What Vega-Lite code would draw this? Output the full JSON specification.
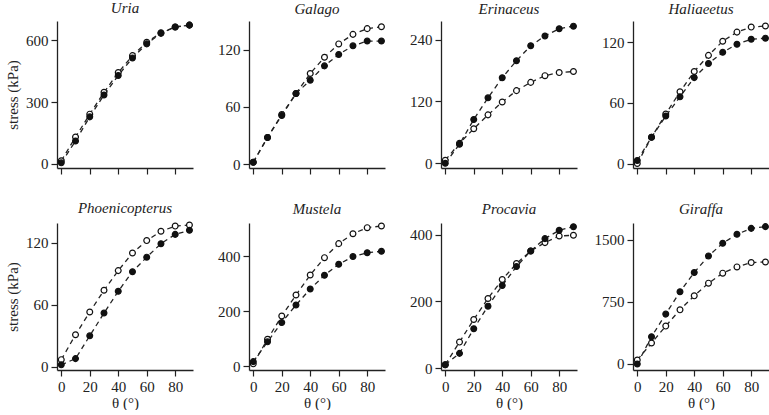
{
  "$schema": "https://vega.github.io/schema/vega-lite/v6.json",
  "padding": {"left": 5, "top": 0, "right": 0, "bottom": 0},
  "background": "white",
  "data": {"values": [
    {"s":"Uria","t":"open","a":0,"v":15},{"s":"Uria","t":"open","a":10,"v":130},{"s":"Uria","t":"open","a":20,"v":241},{"s":"Uria","t":"open","a":30,"v":347},{"s":"Uria","t":"open","a":40,"v":443},{"s":"Uria","t":"open","a":50,"v":525},{"s":"Uria","t":"open","a":60,"v":590},{"s":"Uria","t":"open","a":70,"v":636},{"s":"Uria","t":"open","a":80,"v":664},{"s":"Uria","t":"open","a":90,"v":673},
    {"s":"Uria","t":"filled","a":0,"v":5},{"s":"Uria","t":"filled","a":10,"v":111},{"s":"Uria","t":"filled","a":20,"v":228},{"s":"Uria","t":"filled","a":30,"v":334},{"s":"Uria","t":"filled","a":40,"v":429},{"s":"Uria","t":"filled","a":50,"v":514},{"s":"Uria","t":"filled","a":60,"v":582},{"s":"Uria","t":"filled","a":70,"v":633},{"s":"Uria","t":"filled","a":80,"v":664},{"s":"Uria","t":"filled","a":90,"v":673},
    {"s":"Galago","t":"open","a":0,"v":2},{"s":"Galago","t":"open","a":10,"v":28},{"s":"Galago","t":"open","a":20,"v":52},{"s":"Galago","t":"open","a":30,"v":74},{"s":"Galago","t":"open","a":40,"v":95},{"s":"Galago","t":"open","a":50,"v":112},{"s":"Galago","t":"open","a":60,"v":126},{"s":"Galago","t":"open","a":70,"v":136},{"s":"Galago","t":"open","a":80,"v":142},{"s":"Galago","t":"open","a":90,"v":144},
    {"s":"Galago","t":"filled","a":0,"v":2},{"s":"Galago","t":"filled","a":10,"v":28},{"s":"Galago","t":"filled","a":20,"v":51},{"s":"Galago","t":"filled","a":30,"v":74},{"s":"Galago","t":"filled","a":40,"v":88},{"s":"Galago","t":"filled","a":50,"v":103},{"s":"Galago","t":"filled","a":60,"v":115},{"s":"Galago","t":"filled","a":70,"v":124},{"s":"Galago","t":"filled","a":80,"v":129},{"s":"Galago","t":"filled","a":90,"v":129},
    {"s":"Erinaceus","t":"open","a":0,"v":6},{"s":"Erinaceus","t":"open","a":10,"v":39},{"s":"Erinaceus","t":"open","a":20,"v":67},{"s":"Erinaceus","t":"open","a":30,"v":94},{"s":"Erinaceus","t":"open","a":40,"v":119},{"s":"Erinaceus","t":"open","a":50,"v":141},{"s":"Erinaceus","t":"open","a":60,"v":157},{"s":"Erinaceus","t":"open","a":70,"v":170},{"s":"Erinaceus","t":"open","a":80,"v":176},{"s":"Erinaceus","t":"open","a":90,"v":178},
    {"s":"Erinaceus","t":"filled","a":0,"v":0},{"s":"Erinaceus","t":"filled","a":10,"v":37},{"s":"Erinaceus","t":"filled","a":20,"v":85},{"s":"Erinaceus","t":"filled","a":30,"v":127},{"s":"Erinaceus","t":"filled","a":40,"v":166},{"s":"Erinaceus","t":"filled","a":50,"v":199},{"s":"Erinaceus","t":"filled","a":60,"v":228},{"s":"Erinaceus","t":"filled","a":70,"v":247},{"s":"Erinaceus","t":"filled","a":80,"v":261},{"s":"Erinaceus","t":"filled","a":90,"v":266},
    {"s":"Haliaeetus","t":"open","a":0,"v":0},{"s":"Haliaeetus","t":"open","a":10,"v":26},{"s":"Haliaeetus","t":"open","a":20,"v":49},{"s":"Haliaeetus","t":"open","a":30,"v":71},{"s":"Haliaeetus","t":"open","a":40,"v":91},{"s":"Haliaeetus","t":"open","a":50,"v":107},{"s":"Haliaeetus","t":"open","a":60,"v":121},{"s":"Haliaeetus","t":"open","a":70,"v":130},{"s":"Haliaeetus","t":"open","a":80,"v":135},{"s":"Haliaeetus","t":"open","a":90,"v":136},
    {"s":"Haliaeetus","t":"filled","a":0,"v":3},{"s":"Haliaeetus","t":"filled","a":10,"v":26},{"s":"Haliaeetus","t":"filled","a":20,"v":47},{"s":"Haliaeetus","t":"filled","a":30,"v":66},{"s":"Haliaeetus","t":"filled","a":40,"v":85},{"s":"Haliaeetus","t":"filled","a":50,"v":99},{"s":"Haliaeetus","t":"filled","a":60,"v":110},{"s":"Haliaeetus","t":"filled","a":70,"v":118},{"s":"Haliaeetus","t":"filled","a":80,"v":123},{"s":"Haliaeetus","t":"filled","a":90,"v":124},
    {"s":"Phoenicopterus","t":"open","a":0,"v":7},{"s":"Phoenicopterus","t":"open","a":10,"v":31},{"s":"Phoenicopterus","t":"open","a":20,"v":53},{"s":"Phoenicopterus","t":"open","a":30,"v":74},{"s":"Phoenicopterus","t":"open","a":40,"v":93},{"s":"Phoenicopterus","t":"open","a":50,"v":110},{"s":"Phoenicopterus","t":"open","a":60,"v":122},{"s":"Phoenicopterus","t":"open","a":70,"v":131},{"s":"Phoenicopterus","t":"open","a":80,"v":136},{"s":"Phoenicopterus","t":"open","a":90,"v":137},
    {"s":"Phoenicopterus","t":"filled","a":0,"v":2},{"s":"Phoenicopterus","t":"filled","a":10,"v":8},{"s":"Phoenicopterus","t":"filled","a":20,"v":30},{"s":"Phoenicopterus","t":"filled","a":30,"v":52},{"s":"Phoenicopterus","t":"filled","a":40,"v":73},{"s":"Phoenicopterus","t":"filled","a":50,"v":92},{"s":"Phoenicopterus","t":"filled","a":60,"v":106},{"s":"Phoenicopterus","t":"filled","a":70,"v":119},{"s":"Phoenicopterus","t":"filled","a":80,"v":128},{"s":"Phoenicopterus","t":"filled","a":90,"v":132},
    {"s":"Mustela","t":"open","a":0,"v":8},{"s":"Mustela","t":"open","a":10,"v":97},{"s":"Mustela","t":"open","a":20,"v":182},{"s":"Mustela","t":"open","a":30,"v":258},{"s":"Mustela","t":"open","a":40,"v":331},{"s":"Mustela","t":"open","a":50,"v":394},{"s":"Mustela","t":"open","a":60,"v":445},{"s":"Mustela","t":"open","a":70,"v":481},{"s":"Mustela","t":"open","a":80,"v":503},{"s":"Mustela","t":"open","a":90,"v":509},
    {"s":"Mustela","t":"filled","a":0,"v":16},{"s":"Mustela","t":"filled","a":10,"v":88},{"s":"Mustela","t":"filled","a":20,"v":158},{"s":"Mustela","t":"filled","a":30,"v":222},{"s":"Mustela","t":"filled","a":40,"v":280},{"s":"Mustela","t":"filled","a":50,"v":330},{"s":"Mustela","t":"filled","a":60,"v":370},{"s":"Mustela","t":"filled","a":70,"v":398},{"s":"Mustela","t":"filled","a":80,"v":412},{"s":"Mustela","t":"filled","a":90,"v":417},
    {"s":"Procavia","t":"open","a":0,"v":10},{"s":"Procavia","t":"open","a":10,"v":78},{"s":"Procavia","t":"open","a":20,"v":146},{"s":"Procavia","t":"open","a":30,"v":209},{"s":"Procavia","t":"open","a":40,"v":266},{"s":"Procavia","t":"open","a":50,"v":314},{"s":"Procavia","t":"open","a":60,"v":352},{"s":"Procavia","t":"open","a":70,"v":377},{"s":"Procavia","t":"open","a":80,"v":397},{"s":"Procavia","t":"open","a":90,"v":399},
    {"s":"Procavia","t":"filled","a":0,"v":10},{"s":"Procavia","t":"filled","a":10,"v":44},{"s":"Procavia","t":"filled","a":20,"v":118},{"s":"Procavia","t":"filled","a":30,"v":186},{"s":"Procavia","t":"filled","a":40,"v":248},{"s":"Procavia","t":"filled","a":50,"v":305},{"s":"Procavia","t":"filled","a":60,"v":352},{"s":"Procavia","t":"filled","a":70,"v":389},{"s":"Procavia","t":"filled","a":80,"v":414},{"s":"Procavia","t":"filled","a":90,"v":425},
    {"s":"Giraffa","t":"open","a":0,"v":48},{"s":"Giraffa","t":"open","a":10,"v":253},{"s":"Giraffa","t":"open","a":20,"v":458},{"s":"Giraffa","t":"open","a":30,"v":655},{"s":"Giraffa","t":"open","a":40,"v":824},{"s":"Giraffa","t":"open","a":50,"v":977},{"s":"Giraffa","t":"open","a":60,"v":1098},{"s":"Giraffa","t":"open","a":70,"v":1174},{"s":"Giraffa","t":"open","a":80,"v":1226},{"s":"Giraffa","t":"open","a":90,"v":1234},
    {"s":"Giraffa","t":"filled","a":0,"v":0},{"s":"Giraffa","t":"filled","a":10,"v":330},{"s":"Giraffa","t":"filled","a":20,"v":603},{"s":"Giraffa","t":"filled","a":30,"v":873},{"s":"Giraffa","t":"filled","a":40,"v":1106},{"s":"Giraffa","t":"filled","a":50,"v":1307},{"s":"Giraffa","t":"filled","a":60,"v":1460},{"s":"Giraffa","t":"filled","a":70,"v":1568},{"s":"Giraffa","t":"filled","a":80,"v":1640},{"s":"Giraffa","t":"filled","a":90,"v":1661}
  ]},
  "columns": 4,
  "bounds": "flush",
  "spacing": {"row": 55, "column": 56},
  "concat": [
    {"title": "Uria", "width": 136, "height": 147,
     "transform": [{"filter": "datum.s === 'Uria'"}],
     "encoding": {
       "x": {"field": "a", "type": "quantitative", "scale": {"domain": [-3, 92.5], "nice": false, "zero": false}, "axis": {"values": [0,20,40,60,80], "labels": false, "title": null}},
       "y": {"field": "v", "type": "quantitative", "scale": {"domain": [-20, 693], "nice": false, "zero": false}, "axis": {"values": [0,300,600], "title": "stress (kPa)"}}},
     "layer": [
       {"mark": {"type": "line", "strokeDash": [5,4], "strokeWidth": 1.3, "color": "#222"}, "encoding": {"detail": {"field": "t"}}},
       {"mark": {"type": "point", "shape": "circle", "filled": true, "size": 34, "stroke": "#111", "strokeWidth": 1.2, "opacity": 1}, "encoding": {"fill": {"field": "t", "type": "nominal", "scale": {"domain": ["filled","open"], "range": ["#111","#ffffff"]}, "legend": null}}}
     ]},
    {"title": "Galago", "width": 136, "height": 147,
     "transform": [{"filter": "datum.s === 'Galago'"}],
     "encoding": {
       "x": {"field": "a", "type": "quantitative", "scale": {"domain": [-3, 92.5], "nice": false, "zero": false}, "axis": {"values": [0,20,40,60,80], "labels": false, "title": null}},
       "y": {"field": "v", "type": "quantitative", "scale": {"domain": [-4, 150], "nice": false, "zero": false}, "axis": {"values": [0,60,120], "title": null}}},
     "layer": [
       {"mark": {"type": "line", "strokeDash": [5,4], "strokeWidth": 1.3, "color": "#222"}, "encoding": {"detail": {"field": "t"}}},
       {"mark": {"type": "point", "shape": "circle", "filled": true, "size": 34, "stroke": "#111", "strokeWidth": 1.2, "opacity": 1}, "encoding": {"fill": {"field": "t", "type": "nominal", "scale": {"domain": ["filled","open"], "range": ["#111","#ffffff"]}, "legend": null}}}
     ]},
    {"title": "Erinaceus", "width": 136, "height": 147,
     "transform": [{"filter": "datum.s === 'Erinaceus'"}],
     "encoding": {
       "x": {"field": "a", "type": "quantitative", "scale": {"domain": [-3, 92.5], "nice": false, "zero": false}, "axis": {"values": [0,20,40,60,80], "labels": false, "title": null}},
       "y": {"field": "v", "type": "quantitative", "scale": {"domain": [-9, 276], "nice": false, "zero": false}, "axis": {"values": [0,120,240], "title": null}}},
     "layer": [
       {"mark": {"type": "line", "strokeDash": [5,4], "strokeWidth": 1.3, "color": "#222"}, "encoding": {"detail": {"field": "t"}}},
       {"mark": {"type": "point", "shape": "circle", "filled": true, "size": 34, "stroke": "#111", "strokeWidth": 1.2, "opacity": 1}, "encoding": {"fill": {"field": "t", "type": "nominal", "scale": {"domain": ["filled","open"], "range": ["#111","#ffffff"]}, "legend": null}}}
     ]},
    {"title": "Haliaeetus", "width": 136, "height": 147,
     "transform": [{"filter": "datum.s === 'Haliaeetus'"}],
     "encoding": {
       "x": {"field": "a", "type": "quantitative", "scale": {"domain": [-3, 92.5], "nice": false, "zero": false}, "axis": {"values": [0,20,40,60,80], "labels": false, "title": null}},
       "y": {"field": "v", "type": "quantitative", "scale": {"domain": [-4.4, 141], "nice": false, "zero": false}, "axis": {"values": [0,60,120], "title": null}}},
     "layer": [
       {"mark": {"type": "line", "strokeDash": [5,4], "strokeWidth": 1.3, "color": "#222"}, "encoding": {"detail": {"field": "t"}}},
       {"mark": {"type": "point", "shape": "circle", "filled": true, "size": 34, "stroke": "#111", "strokeWidth": 1.2, "opacity": 1}, "encoding": {"fill": {"field": "t", "type": "nominal", "scale": {"domain": ["filled","open"], "range": ["#111","#ffffff"]}, "legend": null}}}
     ]},
    {"title": "Phoenicopterus", "width": 136, "height": 147,
     "transform": [{"filter": "datum.s === 'Phoenicopterus'"}],
     "encoding": {
       "x": {"field": "a", "type": "quantitative", "scale": {"domain": [-3, 92.5], "nice": false, "zero": false}, "axis": {"values": [0,20,40,60,80], "title": "θ (°)"}},
       "y": {"field": "v", "type": "quantitative", "scale": {"domain": [-3, 139], "nice": false, "zero": false}, "axis": {"values": [0,60,120], "title": "stress (kPa)"}}},
     "layer": [
       {"mark": {"type": "line", "strokeDash": [5,4], "strokeWidth": 1.3, "color": "#222"}, "encoding": {"detail": {"field": "t"}}},
       {"mark": {"type": "point", "shape": "circle", "filled": true, "size": 34, "stroke": "#111", "strokeWidth": 1.2, "opacity": 1}, "encoding": {"fill": {"field": "t", "type": "nominal", "scale": {"domain": ["filled","open"], "range": ["#111","#ffffff"]}, "legend": null}}}
     ]},
    {"title": "Mustela", "width": 136, "height": 147,
     "transform": [{"filter": "datum.s === 'Mustela'"}],
     "encoding": {
       "x": {"field": "a", "type": "quantitative", "scale": {"domain": [-3, 92.5], "nice": false, "zero": false}, "axis": {"values": [0,20,40,60,80], "title": "θ (°)"}},
       "y": {"field": "v", "type": "quantitative", "scale": {"domain": [-14.5, 520], "nice": false, "zero": false}, "axis": {"values": [0,200,400], "title": null}}},
     "layer": [
       {"mark": {"type": "line", "strokeDash": [5,4], "strokeWidth": 1.3, "color": "#222"}, "encoding": {"detail": {"field": "t"}}},
       {"mark": {"type": "point", "shape": "circle", "filled": true, "size": 34, "stroke": "#111", "strokeWidth": 1.2, "opacity": 1}, "encoding": {"fill": {"field": "t", "type": "nominal", "scale": {"domain": ["filled","open"], "range": ["#111","#ffffff"]}, "legend": null}}}
     ]},
    {"title": "Procavia", "width": 136, "height": 147,
     "transform": [{"filter": "datum.s === 'Procavia'"}],
     "encoding": {
       "x": {"field": "a", "type": "quantitative", "scale": {"domain": [-3, 92.5], "nice": false, "zero": false}, "axis": {"values": [0,20,40,60,80], "title": "θ (°)"}},
       "y": {"field": "v", "type": "quantitative", "scale": {"domain": [-6, 436], "nice": false, "zero": false}, "axis": {"values": [0,200,400], "title": null}}},
     "layer": [
       {"mark": {"type": "line", "strokeDash": [5,4], "strokeWidth": 1.3, "color": "#222"}, "encoding": {"detail": {"field": "t"}}},
       {"mark": {"type": "point", "shape": "circle", "filled": true, "size": 34, "stroke": "#111", "strokeWidth": 1.2, "opacity": 1}, "encoding": {"fill": {"field": "t", "type": "nominal", "scale": {"domain": ["filled","open"], "range": ["#111","#ffffff"]}, "legend": null}}}
     ]},
    {"title": "Giraffa", "width": 136, "height": 147,
     "transform": [{"filter": "datum.s === 'Giraffa'"}],
     "encoding": {
       "x": {"field": "a", "type": "quantitative", "scale": {"domain": [-3, 92.5], "nice": false, "zero": false}, "axis": {"values": [0,20,40,60,80], "title": "θ (°)"}},
       "y": {"field": "v", "type": "quantitative", "scale": {"domain": [-73, 1705], "nice": false, "zero": false}, "axis": {"values": [0,750,1500], "title": null}}},
     "layer": [
       {"mark": {"type": "line", "strokeDash": [5,4], "strokeWidth": 1.3, "color": "#222"}, "encoding": {"detail": {"field": "t"}}},
       {"mark": {"type": "point", "shape": "circle", "filled": true, "size": 34, "stroke": "#111", "strokeWidth": 1.2, "opacity": 1}, "encoding": {"fill": {"field": "t", "type": "nominal", "scale": {"domain": ["filled","open"], "range": ["#111","#ffffff"]}, "legend": null}}}
     ]}
  ],
  "config": {
    "view": {"stroke": null},
    "axis": {"grid": false, "format": "d", "domainColor": "#222", "tickColor": "#222", "domainWidth": 1.3, "tickWidth": 1.2, "tickSize": 6, "labelPadding": 3, "labelFlush": false, "labelFont": "Liberation Serif", "labelFontSize": 15, "labelColor": "#222", "titleFont": "Liberation Serif", "titleFontSize": 15, "titleFontWeight": "normal", "titleColor": "#222", "titlePadding": 5},
    "axisX": {"titlePadding": 1},
    "title": {"font": "Liberation Serif", "fontStyle": "italic", "fontSize": 15, "fontWeight": "normal", "color": "#222", "anchor": "middle", "offset": 4}
  }
}
